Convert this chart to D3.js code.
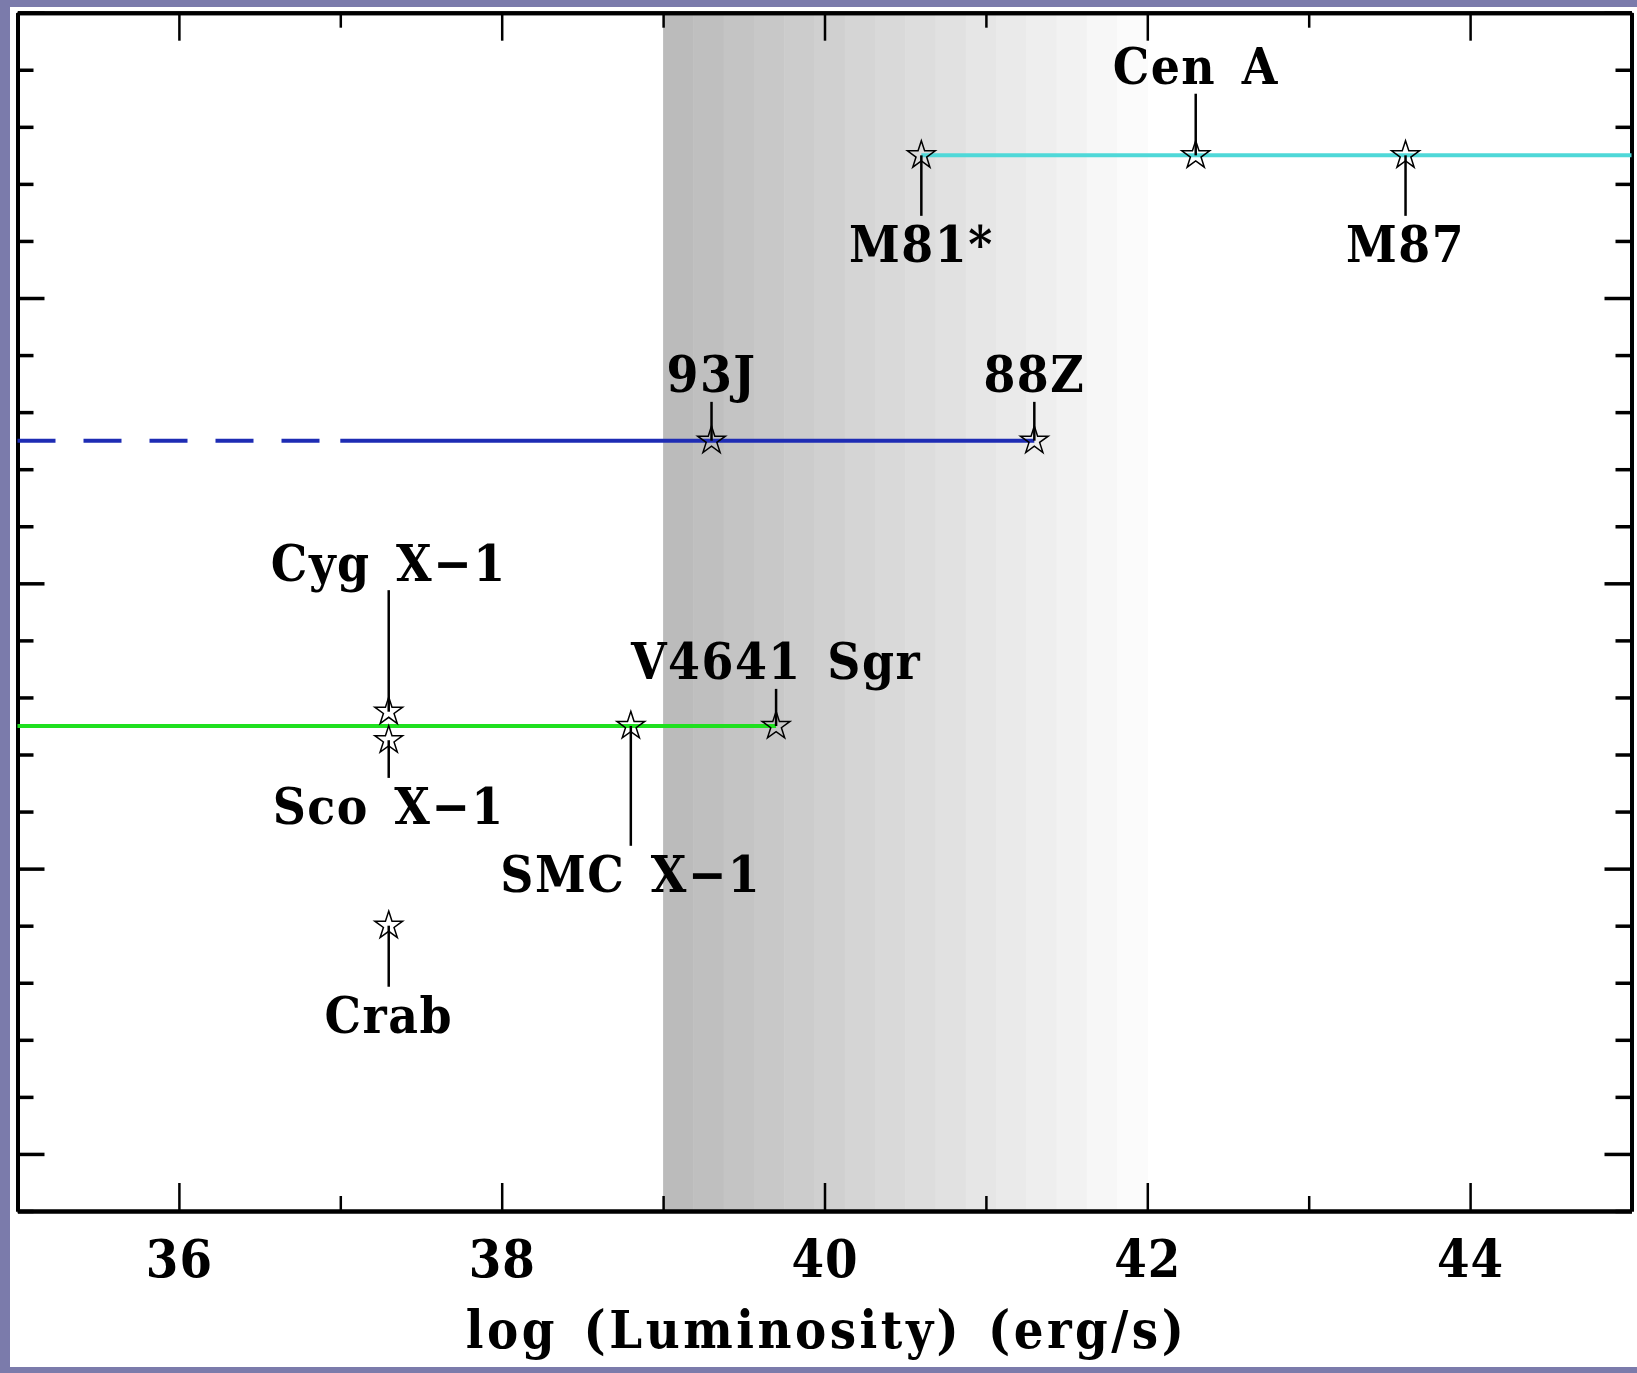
<!DOCTYPE html>
<html>
<head>
<meta charset="utf-8">
<script src="https://cdn.jsdelivr.net/npm/d3@7/dist/d3.min.js"></script>
<style>
  body { margin: 0; background: #7b7bab; }
  svg { display: block; }
  .lbl { font-family: "DejaVu Serif", "Liberation Serif", serif; font-weight: bold; font-stretch: condensed; }
</style>
</head>
<body>
<svg id="chart" width="1637" height="1373"></svg>
<script>
// sources: name, log L, vertical position, where the leader line ends (label side)
const names = ["Crab", "Cyg X\u22121", "Sco X\u22121", "SMC X\u22121", "V4641 Sgr", "93J", "88Z", "M81*", "Cen A", "M87"];
const logL = [37.3, 37.3, 37.3, 38.8, 39.7, 39.3, 41.3, 40.6, 42.3, 43.6];
const yVals = [4.0, 7.75, 7.25, 7.5, 7.5, 12.5, 12.5, 17.5, 17.5, 17.5];
const labelTips = [2.93, 9.88, 6.59, 5.4, 8.15, 13.18, 13.18, 16.44, 18.58, 16.44];

// horizontal range lines
const segStart = [35, 35, 37, 40.6];
const segEnd = [39.7, 37, 41.3, 45];
const segY = [7.5, 12.5, 12.5, 17.5];
const segDashed = [false, true, false, false];
const segColor = ["#1fe01f", "#1e2cb4", "#1e2cb4", "#4fd8d8"];

// shaded luminosity band
const shadeFrom = 39;
const shadeTo = 42;
const shadeSteps = 16;

const xTicks = d3.range(35, 46);
const yTicks = d3.range(-1, 21);

let svg = d3.select("#chart");
let plot = { left: 17.5, right: 1631.5, top: 12.7, bottom: 1211 };

svg.append("rect")
  .attr("x", 10).attr("y", 7)
  .attr("width", 1627).attr("height", 1360)
  .attr("fill", "#fff");

let x = d3.scaleLinear().domain([35, 45]).range([plot.left, plot.right]);
let y = d3.scaleLinear().domain([-1, 20]).range([plot.bottom, plot.top]);

// gray shading in stepped bands
let stepW = (shadeTo - shadeFrom) / shadeSteps;
let shadeColor = d3.interpolateRgb("#bbbbbb", "#fbfbfb");
svg.append("g")
  .selectAll("rect")
  .data(d3.range(shadeSteps))
  .enter()
  .append("rect")
  .attr("x", (i) => x(shadeFrom + i * stepW))
  .attr("width", (i) => x(shadeFrom + (i + 1) * stepW) - x(shadeFrom + i * stepW) + 0.5)
  .attr("y", plot.top)
  .attr("height", plot.bottom - plot.top)
  .attr("fill", (i) => shadeColor(i / (shadeSteps - 1)));

// axes: major and minor ticks, all pointing inward
function styleAxis(g, width) {
  g.selectAll("path").attr("stroke", "#000").attr("stroke-width", 4);
  g.selectAll("line").attr("stroke", "#000").attr("stroke-width", width);
}

let majorX = xTicks.filter((v) => v % 2 === 0);
let minorX = xTicks.filter((v) => v % 2 !== 0);
let majorY = yTicks.filter((v) => v % 5 === 0);
let minorY = yTicks.filter((v) => v % 5 !== 0);

let bottomMajor = svg.append("g")
  .attr("transform", `translate(0,${plot.bottom})`)
  .call(d3.axisBottom(x).tickValues(majorX).tickSize(-28).tickSizeOuter(0).tickPadding(29).tickFormat(d3.format("d")));
styleAxis(bottomMajor, 2.5);
bottomMajor.selectAll("text")
  .attr("class", "lbl")
  .attr("font-size", 52)
  .attr("letter-spacing", 1)
  .attr("fill", "#000");

let bottomMinor = svg.append("g")
  .attr("transform", `translate(0,${plot.bottom})`)
  .call(d3.axisBottom(x).tickValues(minorX).tickSize(-15).tickSizeOuter(0).tickFormat(""));
styleAxis(bottomMinor, 2.5);

let topMajor = svg.append("g")
  .attr("transform", `translate(0,${plot.top})`)
  .call(d3.axisTop(x).tickValues(majorX).tickSize(-28).tickSizeOuter(0).tickFormat(""));
styleAxis(topMajor, 2.5);
let topMinor = svg.append("g")
  .attr("transform", `translate(0,${plot.top})`)
  .call(d3.axisTop(x).tickValues(minorX).tickSize(-15).tickSizeOuter(0).tickFormat(""));
styleAxis(topMinor, 2.5);

[[d3.axisLeft, plot.left], [d3.axisRight, plot.right]].forEach(([axisFn, pos]) => {
  let gMaj = svg.append("g")
    .attr("transform", `translate(${pos},0)`)
    .call(axisFn(y).tickValues(majorY).tickSize(-27).tickSizeOuter(0).tickFormat(""));
  styleAxis(gMaj, 3.5);
  let gMin = svg.append("g")
    .attr("transform", `translate(${pos},0)`)
    .call(axisFn(y).tickValues(minorY).tickSize(-16).tickSizeOuter(0).tickFormat(""));
  styleAxis(gMin, 3.5);
});

// x axis title
svg.append("text")
  .attr("class", "lbl")
  .attr("x", (plot.left + plot.right) / 2 + 2)
  .attr("y", 1348)
  .attr("text-anchor", "middle")
  .attr("font-size", 52)
  .attr("letter-spacing", 3.5)
  .attr("word-spacing", 6)
  .text("log (Luminosity) (erg/s)");

// range lines
svg.append("g")
  .selectAll("line")
  .data(segStart)
  .enter()
  .append("line")
  .attr("x1", (d) => x(d))
  .attr("x2", (d, i) => x(segEnd[i]))
  .attr("y1", (d, i) => y(segY[i]))
  .attr("y2", (d, i) => y(segY[i]))
  .attr("stroke", (d, i) => segColor[i])
  .attr("stroke-width", 4)
  .attr("stroke-dasharray", (d, i) => (segDashed[i] ? "38,28" : null));

// leader lines, stars and labels
let src = names.map((n, i) => ({ name: n, lx: logL[i], ly: yVals[i], tip: labelTips[i] }));

svg.append("g")
  .selectAll("line")
  .data(src)
  .enter()
  .append("line")
  .attr("x1", (d) => x(d.lx))
  .attr("x2", (d) => x(d.lx))
  .attr("y1", (d) => y(d.ly))
  .attr("y2", (d) => y(d.tip))
  .attr("stroke", "#000")
  .attr("stroke-width", 2.5);

svg.append("g")
  .selectAll("path")
  .data(src)
  .enter()
  .append("path")
  .attr("d", d3.symbol().type(d3.symbolStar).size(240))
  .attr("transform", (d) => `translate(${x(d.lx)},${y(d.ly)})`)
  .attr("fill", "none")
  .attr("stroke", "#000")
  .attr("stroke-width", 1.5);

svg.append("g")
  .selectAll("text")
  .data(src)
  .enter()
  .append("text")
  .attr("class", "lbl")
  .attr("x", (d) => x(d.lx))
  .attr("y", (d) => (d.tip > d.ly ? y(d.tip) - 9.5 : y(d.tip) + 46.5))
  .attr("text-anchor", "middle")
  .attr("font-size", 51)
  .attr("letter-spacing", 1.5)
  .attr("word-spacing", 8)
  .text((d) => d.name);
</script>
</body>
</html>
